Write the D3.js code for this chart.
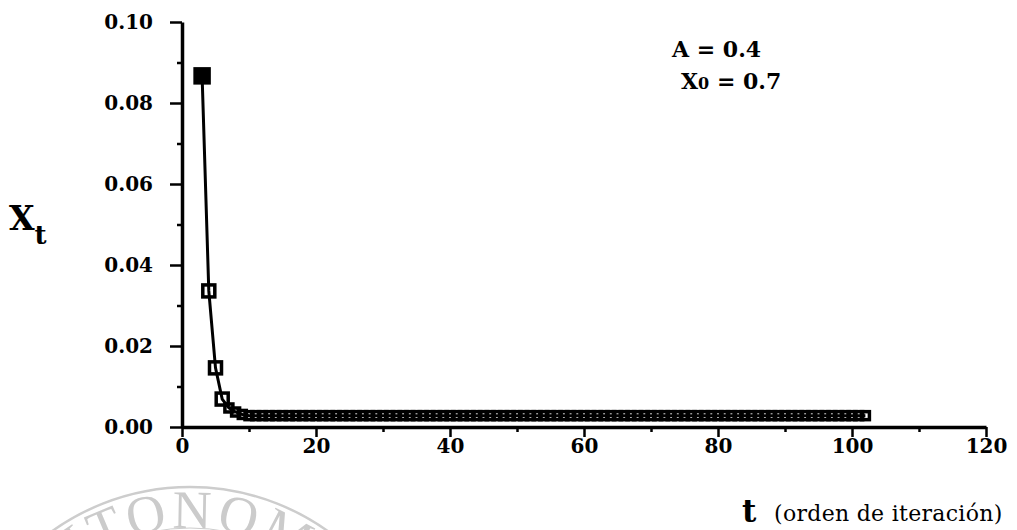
<!DOCTYPE html>
<html>
<head>
<meta charset="utf-8">
<script src="https://cdn.jsdelivr.net/npm/d3@7"></script>
<style>
  body { margin: 0; background: #fff; }
  svg { display: block; }
  .axis text { font-family: "DejaVu Serif", serif; font-weight: bold; font-size: 20px; fill: #000; }
  .title { font-family: "DejaVu Serif", serif; fill: #000; }
</style>
</head>
<body>
<svg id="chart" width="1017" height="530"></svg>
<script>
// iteration number (t) and value of the map at that step (X_t)
const iterations = [
  3, 4, 5, 6, 7, 8, 9, 10, 11, 12,
  13, 14, 15, 16, 17, 18, 19, 20, 21, 22,
  23, 24, 25, 26, 27, 28, 29, 30, 31, 32,
  33, 34, 35, 36, 37, 38, 39, 40, 41, 42,
  43, 44, 45, 46, 47, 48, 49, 50, 51, 52,
  53, 54, 55, 56, 57, 58, 59, 60, 61, 62,
  63, 64, 65, 66, 67, 68, 69, 70, 71, 72,
  73, 74, 75, 76, 77, 78, 79, 80, 81, 82,
  83, 84, 85, 86, 87, 88, 89, 90, 91, 92,
  93, 94, 95, 96, 97, 98, 99, 100, 101, 102,
];
const values = [
  0.0867, 0.0336, 0.0146, 0.0069, 0.0047, 0.0037, 0.0031, 0.0028, 0.0028, 0.0028,
  0.0028, 0.0028, 0.0028, 0.0028, 0.0028, 0.0028, 0.0028, 0.0028, 0.0028, 0.0028,
  0.0028, 0.0028, 0.0028, 0.0028, 0.0028, 0.0028, 0.0028, 0.0028, 0.0028, 0.0028,
  0.0028, 0.0028, 0.0028, 0.0028, 0.0028, 0.0028, 0.0028, 0.0028, 0.0028, 0.0028,
  0.0028, 0.0028, 0.0028, 0.0028, 0.0028, 0.0028, 0.0028, 0.0028, 0.0028, 0.0028,
  0.0028, 0.0028, 0.0028, 0.0028, 0.0028, 0.0028, 0.0028, 0.0028, 0.0028, 0.0028,
  0.0028, 0.0028, 0.0028, 0.0028, 0.0028, 0.0028, 0.0028, 0.0028, 0.0028, 0.0028,
  0.0028, 0.0028, 0.0028, 0.0028, 0.0028, 0.0028, 0.0028, 0.0028, 0.0028, 0.0028,
  0.0028, 0.0028, 0.0028, 0.0028, 0.0028, 0.0028, 0.0028, 0.0028, 0.0028, 0.0028,
  0.0028, 0.0028, 0.0028, 0.0028, 0.0028, 0.0028, 0.0028, 0.0028, 0.0028, 0.0028,
];
const xTicks = [0, 20, 40, 60, 80, 100, 120];
const xMinorTicks = [10, 30, 50, 70, 90, 110];
const yTicks = [0, 0.02, 0.04, 0.06, 0.08, 0.1];
const yMinorTicks = [0.01, 0.03, 0.05, 0.07, 0.09];

const data = iterations.map((t, i) => ({ t: t, v: values[i] }));

const svg = d3.select("#chart");

const x = d3.scaleLinear().domain([0, 120]).range([182, 986]);
const y = d3.scaleLinear().domain([0, 0.1]).range([427, 22]);

// faded seal watermark at the bottom left of the scanned page
const seal = svg.append("g").attr("fill", "none").attr("stroke", "#cdcdcd");
seal.append("circle").attr("cx", 190).attr("cy", 724).attr("r", 237).attr("stroke-width", 2.5);
seal.append("circle").attr("cx", 190).attr("cy", 724).attr("r", 190)
  .attr("stroke-width", 5).attr("stroke-dasharray", "1.5 2.5");
// full circle starting at the bottom, running clockwise so the text sits upright on top
seal.append("path")
  .attr("id", "sealArc")
  .attr("d", "M 190,920 A 196,196 0 1,1 190,528 A 196,196 0 1,1 190,920");
svg.append("text")
  .attr("font-family", "Liberation Serif, serif")
  .attr("font-size", 54)
  .attr("fill", "#cbcbcb")
  .attr("letter-spacing", 4)
  .append("textPath")
  .attr("href", "#sealArc")
  .attr("startOffset", 606)
  .attr("text-anchor", "middle")
  .text("AUTONOMA");

// minor ticks
svg.append("g")
  .attr("class", "axis")
  .attr("transform", "translate(0,427)")
  .call(d3.axisBottom(x).tickValues(xMinorTicks).tickSize(5).tickFormat(""))
  .call((g) => g.select(".domain").remove());

svg.append("g")
  .attr("class", "axis")
  .attr("transform", "translate(182,0)")
  .call(d3.axisLeft(y).tickValues(yMinorTicks).tickSize(5).tickFormat(""))
  .call((g) => g.select(".domain").remove());

// major ticks with labels
svg.append("g")
  .attr("class", "axis")
  .attr("transform", "translate(0,427)")
  .call(d3.axisBottom(x).tickValues(xTicks).tickSize(10).tickSizeOuter(0).tickPadding(2));

svg.append("g")
  .attr("class", "axis")
  .attr("transform", "translate(182,0)")
  .call(
    d3.axisLeft(y).tickValues(yTicks).tickSize(12).tickSizeOuter(0).tickPadding(17)
      .tickFormat(d3.format(".2f"))
  );

svg.selectAll(".axis .domain").attr("stroke", "#000").attr("stroke-width", 3.5);
svg.selectAll(".axis .tick line").attr("stroke", "#000").attr("stroke-width", 2.5);

// the series
const line = d3.line().x((d) => x(d.t)).y((d) => y(d.v));

svg.append("path")
  .datum(data)
  .attr("fill", "none")
  .attr("stroke", "#000")
  .attr("stroke-width", 3)
  .attr("d", line);

const markerSize = (i) => (i === 0 ? 14 : i < 4 ? 12 : 8);

svg.selectAll(".marker")
  .data(data)
  .enter()
  .append("rect")
  .attr("class", "marker")
  .attr("x", (d, i) => x(d.t) - markerSize(i) / 2)
  .attr("y", (d, i) => y(d.v) - markerSize(i) / 2)
  .attr("width", (d, i) => markerSize(i))
  .attr("height", (d, i) => markerSize(i))
  .attr("fill", (d, i) => (i === 0 ? "#000" : "none"))
  .attr("stroke", "#000")
  .attr("stroke-width", 3.5);

// axis titles
const yTitle = svg.append("text")
  .attr("class", "title")
  .attr("x", 9)
  .attr("y", 230)
  .attr("font-weight", "bold")
  .attr("font-size", 33);
yTitle.append("tspan").text("X");
yTitle.append("tspan").attr("font-size", 26).attr("dy", 14).text("t");

svg.append("text")
  .attr("class", "title")
  .attr("x", 742)
  .attr("y", 522)
  .attr("font-weight", "bold")
  .attr("font-size", 31)
  .text("t");

svg.append("text")
  .attr("class", "title")
  .attr("x", 774)
  .attr("y", 521)
  .attr("font-size", 22)
  .attr("letter-spacing", 0.3)
  .text("(orden de iteración)");

// parameters of the run
svg.append("text")
  .attr("class", "title")
  .attr("x", 672)
  .attr("y", 57)
  .attr("font-weight", "bold")
  .attr("font-size", 22)
  .text("A = 0.4");

const x0Label = svg.append("text")
  .attr("class", "title")
  .attr("x", 681)
  .attr("y", 89)
  .attr("font-weight", "bold")
  .attr("font-size", 22);
x0Label.append("tspan").text("X");
x0Label.append("tspan").attr("font-size", 16).text("0");
x0Label.append("tspan").text(" = 0.7");
</script>
</body>
</html>
